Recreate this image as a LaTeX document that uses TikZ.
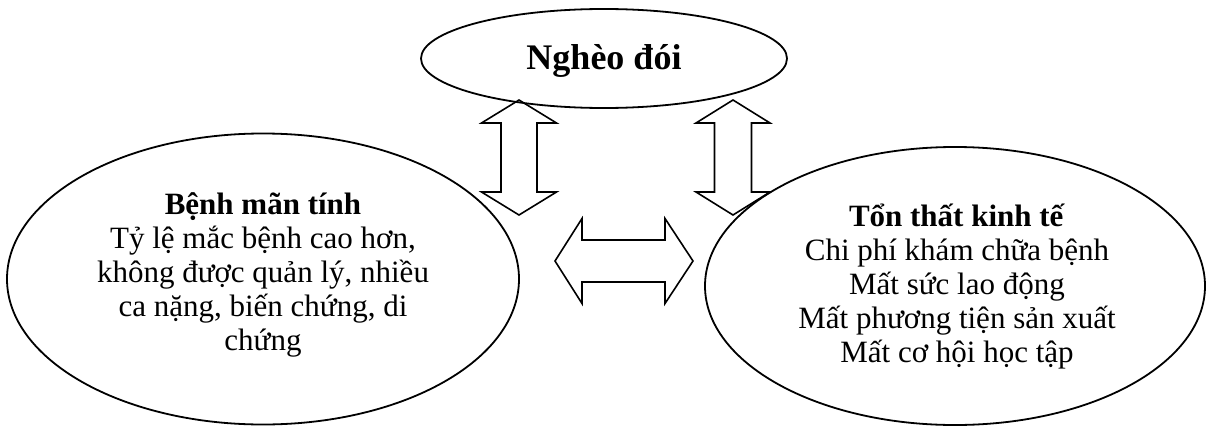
\documentclass[tikz,border=0pt]{standalone}
\usepackage{fontspec}
\setmainfont{Liberation Serif}
\usetikzlibrary{shapes.geometric,calc}
\tikzset{
  oval/.style={draw, ellipse, line width=1.8pt, inner sep=0pt},
  label text/.style={align=center, inner sep=0pt, anchor=base, font=\fontsize{31}{34}\selectfont},
  blockarrow/.style={draw, line width=1.6pt, line join=miter}
}
\begin{document}
\begin{tikzpicture}[x=1pt, y=-1pt]
\useasboundingbox (0,0) rectangle (1206,428);
% ellipses
\node[oval, minimum width=366pt, minimum height=99pt] (poor) at (604,58.5) {};
\node[oval, minimum width=512pt, minimum height=291pt] (chronic) at (263,279) {};
\node[oval, minimum width=500pt, minimum height=278pt] (econ) at (955,286) {};
% texts (anchor base = baseline of the last line)
\node[inner sep=0pt, anchor=base, font=\fontsize{36}{40}\selectfont\bfseries] (poortxt) at (604,70) {Nghèo đói};
\node[label text] (chronictxt) at (263,350) {\textbf{Bệnh mãn tính}\\Tỷ lệ mắc bệnh cao hơn,\\không được quản lý, nhiều\\ca nặng, biến chứng, di\\chứng};
\node[label text] (econtxt) at (957,362) {\textbf{Tổn thất kinh tế}\\Chi phí khám chữa bệnh\\Mất sức lao động\\Mất phương tiện sản xuất\\Mất cơ hội học tập};
% block arrows
\coordinate (aL) at (519,157.5);
\coordinate (aR) at (733,157.5);
\coordinate (aH) at (624,261);
\draw[blockarrow] ($(aL)+(0,-57.5)$) -- ($(aL)+(37.5,-34.5)$) -- ($(aL)+(18,-34.5)$) -- ($(aL)+(18,34.5)$) -- ($(aL)+(37.5,34.5)$) -- ($(aL)+(0,57.5)$) -- ($(aL)+(-37.5,34.5)$) -- ($(aL)+(-18,34.5)$) -- ($(aL)+(-18,-34.5)$) -- ($(aL)+(-37.5,-34.5)$) -- cycle;
\draw[blockarrow] ($(aR)+(0,-57.5)$) -- ($(aR)+(37,-34.5)$) -- ($(aR)+(18.5,-34.5)$) -- ($(aR)+(18.5,34.5)$) -- ($(aR)+(37,34.5)$) -- ($(aR)+(0,57.5)$) -- ($(aR)+(-37,34.5)$) -- ($(aR)+(-18.5,34.5)$) -- ($(aR)+(-18.5,-34.5)$) -- ($(aR)+(-37,-34.5)$) -- cycle;
\draw[blockarrow] ($(aH)+(-69,0)$) -- ($(aH)+(-42,-42.5)$) -- ($(aH)+(-42,-21)$) -- ($(aH)+(41,-21)$) -- ($(aH)+(41,-42.5)$) -- ($(aH)+(69,0)$) -- ($(aH)+(41,42.5)$) -- ($(aH)+(41,21)$) -- ($(aH)+(-42,21)$) -- ($(aH)+(-42,42.5)$) -- cycle;
\end{tikzpicture}
\end{document}
